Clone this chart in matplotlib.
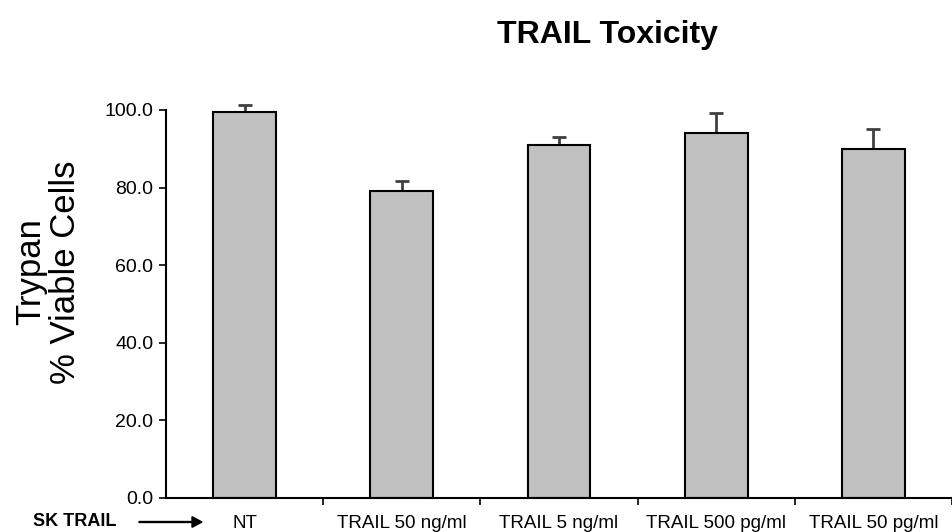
import matplotlib
matplotlib.use("Agg")
import matplotlib.pyplot as plt
import numpy as np

plt.rcParams['font.family'] = ['Liberation Sans', 'DejaVu Sans']

categories = ["NT", "TRAIL 50 ng/ml", "TRAIL 5 ng/ml", "TRAIL 500 pg/ml", "TRAIL 50 pg/ml"]
values = [99.6, 79.0, 91.0, 94.0, 89.9]
errors = [1.7, 2.7, 2.0, 5.1, 5.2]
yticks = [0, 20, 40, 60, 80, 100]

W, H = 952, 532
fig = plt.figure(figsize=(W/100, H/100), dpi=100)
x0, x1 = 166, 952
yb, yt = 498, 110
ax = fig.add_axes([x0/W, 1 - yb/H, (x1 - x0)/W, (yb - yt)/H])

x = np.arange(len(categories))
ax.bar(x, values, width=0.4, color='#c0c0c0', edgecolor='black', linewidth=1.5, zorder=2)
eb = ax.errorbar(x, values, yerr=[np.zeros(len(errors)), errors], fmt='none',
                 ecolor='#404040', elinewidth=2, capsize=5, capthick=2, zorder=1)
for artist in eb.lines[1] + eb.lines[2]:
    artist.set_clip_on(False)

ax.set_xlim(-0.5, (x1 - 245.5) / 159)
ax.set_ylim(0, 100)
ax.set_yticks(yticks)
ax.set_yticklabels([f"{v:.1f}" for v in yticks], fontsize=14)
ax.set_xticks(x)
ax.set_xticklabels(categories, fontsize=13.5)
ax.tick_params(axis='x', length=0, pad=12)
ax.set_xticks(np.arange(len(categories)) + 0.5, minor=True)
ax.tick_params(axis='x', which='minor', length=5, width=1.2, direction='out')
ax.tick_params(axis='y', length=5, width=1.2, direction='out', pad=4)

for s in ['top', 'right']:
    ax.spines[s].set_visible(False)
for s in ['left', 'bottom']:
    ax.spines[s].set_linewidth(1.5)

fig.text(48/W, 1 - 272/H, "Trypan\n% Viable Cells", fontsize=25, rotation=90,
         ha='center', va='center', linespacing=1.05, multialignment='center')

fig.text(607/W, 1 - 35/H, "TRAIL Toxicity", fontsize=23, fontweight='bold', ha='center', va='center')
fig.text(33/W, 1 - 522/H, "SK TRAIL", fontsize=13, fontweight='bold', ha='left', va='center')
fig.patches.append(matplotlib.patches.FancyArrow(139/W, 1 - 522/H, 63/W, 0, width=0.0018,
                   head_width=0.02, head_length=10/W, length_includes_head=True,
                   color='black', transform=fig.transFigure, figure=fig))

fig.savefig("out.png", dpi=100)
